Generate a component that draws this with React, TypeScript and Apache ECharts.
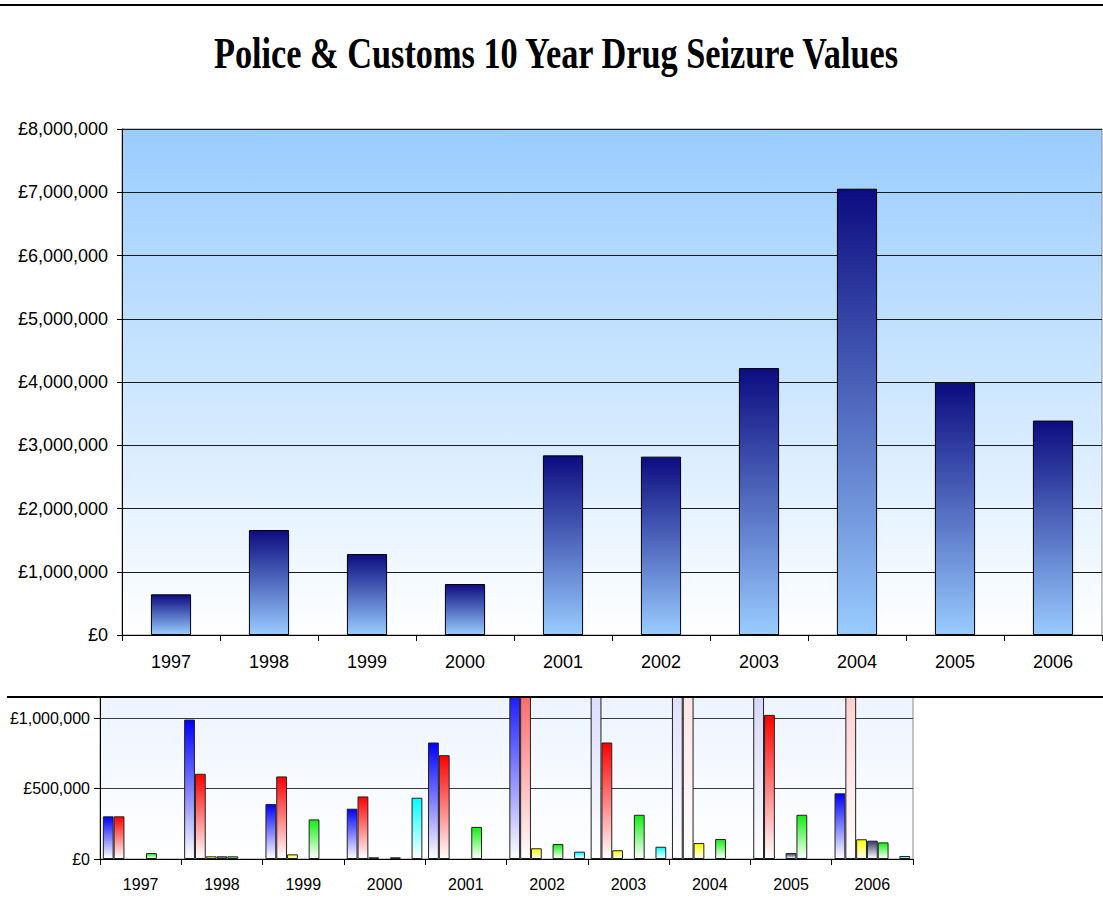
import React, { useEffect, useRef } from "react";
import * as echarts from "echarts";

// ---------- data ----------
const years = ["1997", "1998", "1999", "2000", "2001", "2002", "2003", "2004", "2005", "2006"];
const totalValues = [643000, 1660000, 1280000, 806000, 2840000, 2820000, 4220000, 7056000, 3990000, 3390000];

const series1Values = [303000, 990000, 390000, 357000, 827000, 1300000, 8300000, 9500000, 7300000, 466000];
const series2Values = [303000, 605000, 586000, 444000, 737000, 2000000, 827000, 11000000, 1023000, 6300000];
const series3Values = [null, 19000, 33000, 12000, null, 76000, 62000, 113000, null, 140000];
const series4Values = [null, 19000, null, null, null, null, null, null, 42000, 130000];
const series5Values = [42000, 19000, 281000, 12000, 228000, 106000, 314000, 142000, 314000, 118000];
const series6Values = [null, null, null, null, null, null, null, null, null, null];
const series7Values = [null, null, null, 435000, null, 52000, 87000, null, null, 21000];

const lowerSeriesNames = ["Series 1", "Series 2", "Series 3", "Series 4", "Series 5", "Series 6", "Series 7"];
const lowerSeriesColors = ["#0000ff", "#ff0000", "#ffff00", "#333a66", "#11ee11", "#cc66ff", "#00ffff"];
const lowerSeriesValues = [series1Values, series2Values, series3Values, series4Values, series5Values, series6Values, series7Values];

const TITLE = "Police & Customs 10 Year Drug Seizure Values";
const UPPER_MAX = 8000000;
const LOWER_MAX = 1150000;

function hexToRgb(hex: string) {
  const h = hex.replace("#", "");
  return [parseInt(h.slice(0, 2), 16), parseInt(h.slice(2, 4), 16), parseInt(h.slice(4, 6), 16)];
}
function mixWhite(hex: string, frac: number) {
  const [r, g, b] = hexToRgb(hex);
  const m = (c: number) => Math.round(c * frac + 255 * (1 - frac));
  return `rgb(${m(r)},${m(g)},${m(b)})`;
}
function fade(top: string) {
  return new echarts.graphic.LinearGradient(0, 0, 0, 1, [
    { offset: 0, color: top },
    { offset: 1, color: "#ffffff" },
  ]);
}
const money = (v: number) => "£" + Math.round(v).toLocaleString("en-GB");

function measureTitle(font: string) {
  try {
    const c = document.createElement("canvas").getContext("2d");
    if (!c) return 0;
    c.font = font;
    return c.measureText(TITLE).width;
  } catch (e) {
    return 0;
  }
}

const UPPER_FONT = '"Liberation Sans", Arial, sans-serif';
const LOWER_FONT = '"Liberation Sans", Arial, sans-serif';

export default function App() {
  const ref = useRef<HTMLDivElement>(null);
  useEffect(() => {
    if (!ref.current) return;
    const chart = echarts.init(ref.current, null, { renderer: "svg" });

    const titleFont = 'bold 45px "Liberation Serif", "Times New Roman", serif';
    const w = measureTitle(titleFont);
    const titleScale = w > 0 ? 687 / w : 0.75;

    const lowerSeries = lowerSeriesValues.map((vals, i) => ({
      name: lowerSeriesNames[i],
      type: "bar",
      xAxisIndex: 1,
      yAxisIndex: 1,
      barGap: "0%",
      barCategoryGap: "7%",
      clip: true,
      itemStyle: {
        color: fade(lowerSeriesColors[i]),
        borderColor: "#202020",
        borderWidth: 1,
      },
      data: vals.map((v) => {
        if (v == null) return "-";
        if (v > LOWER_MAX) {
          return {
            value: v,
            itemStyle: { color: fade(mixWhite(lowerSeriesColors[i], LOWER_MAX / v)) },
          };
        }
        return v;
      }),
    }));

    const option: any = {
      animation: false,
      backgroundColor: "#ffffff",
      grid: [
        {
          left: 122,
          top: 129,
          width: 980,
          height: 506,
          show: true,
          borderColor: "#8a8a8a",
          borderWidth: 1,
          backgroundColor: new echarts.graphic.LinearGradient(0, 0, 0, 1, [
            { offset: 0, color: "#99ccff" },
            { offset: 1, color: "#ffffff" },
          ]),
          containLabel: false,
          outerBoundsMode: "none",
        },
        {
          left: 100,
          top: 697,
          width: 813,
          height: 162,
          show: true,
          borderColor: "#8a8a8a",
          borderWidth: 1,
          backgroundColor: new echarts.graphic.LinearGradient(0, 0, 0, 1, [
            { offset: 0, color: "#edf4ff" },
            { offset: 1, color: "#ffffff" },
          ]),
          containLabel: false,
          outerBoundsMode: "none",
        },
      ],
      xAxis: [
        {
          type: "category",
          gridIndex: 0,
          data: years,
          axisLine: { show: true, lineStyle: { color: "#000", width: 1 } },
          axisTick: { show: true, length: 6, lineStyle: { color: "#000" } },
          axisLabel: {
            color: "#000",
            fontSize: 18,
            fontFamily: UPPER_FONT,
            margin: 18,
          },
          splitLine: { show: false },
        },
        {
          type: "category",
          gridIndex: 1,
          data: years,
          axisLine: { show: true, lineStyle: { color: "#000", width: 1 } },
          axisTick: { show: true, length: 6, lineStyle: { color: "#000" } },
          axisLabel: {
            color: "#000",
            fontSize: 16,
            fontFamily: LOWER_FONT,
            margin: 17,
          },
          splitLine: { show: false },
        },
      ],
      yAxis: [
        {
          type: "value",
          gridIndex: 0,
          min: 0,
          max: UPPER_MAX,
          interval: 1000000,
          axisLine: { show: true, lineStyle: { color: "#000", width: 1 } },
          axisTick: { show: true, length: 5, lineStyle: { color: "#000" } },
          axisLabel: {
            color: "#000",
            fontSize: 18,
            fontFamily: UPPER_FONT,
            margin: 14,
            formatter: (v: number) => money(v),
          },
          splitLine: { show: true, lineStyle: { color: "#1a1a1a", width: 1 } },
        },
        {
          type: "value",
          gridIndex: 1,
          min: 0,
          max: LOWER_MAX,
          interval: 500000,
          axisLine: { show: true, lineStyle: { color: "#000", width: 1 } },
          axisTick: { show: true, length: 6, lineStyle: { color: "#000" } },
          axisLabel: {
            color: "#000",
            fontSize: 16,
            fontFamily: LOWER_FONT,
            margin: 10,
            showMaxLabel: false,
            formatter: (v: number) => (v % 500000 === 0 ? money(v) : ""),
          },
          splitLine: { show: true, lineStyle: { color: "#3a3a3a", width: 1 } },
        },
      ],
      series: [
        {
          name: "Total",
          type: "bar",
          xAxisIndex: 0,
          yAxisIndex: 0,
          barCategoryGap: "59%",
          itemStyle: {
            color: new echarts.graphic.LinearGradient(0, 0, 0, 1, [
              { offset: 0, color: "#0c0c80" },
              { offset: 1, color: "#99ccff" },
            ]),
            borderColor: "#000",
            borderWidth: 1,
          },
          data: totalValues,
        },
        ...lowerSeries,
      ],
      graphic: [
        {
          type: "line",
          shape: { x1: 0, y1: 5, x2: 1103, y2: 5 },
          style: { stroke: "#000", lineWidth: 2 },
          z: 100,
        },
        {
          type: "line",
          shape: { x1: 7, y1: 697, x2: 1103, y2: 697 },
          style: { stroke: "#000", lineWidth: 2 },
          z: 100,
        },
        {
          type: "text",
          x: 556,
          y: 53,
          scaleX: titleScale,
          style: {
            text: TITLE,
            font: titleFont,
            fill: "#000",
            textAlign: "center",
            textVerticalAlign: "middle",
          },
          z: 100,
        },
      ],
    };

    chart.setOption(option);
    return () => chart.dispose();
  }, []);

  return (
    <div
      ref={ref}
      style={{ position: "absolute", left: 0, top: 0, width: 1103, height: 920, background: "#fff" }}
    />
  );
}
